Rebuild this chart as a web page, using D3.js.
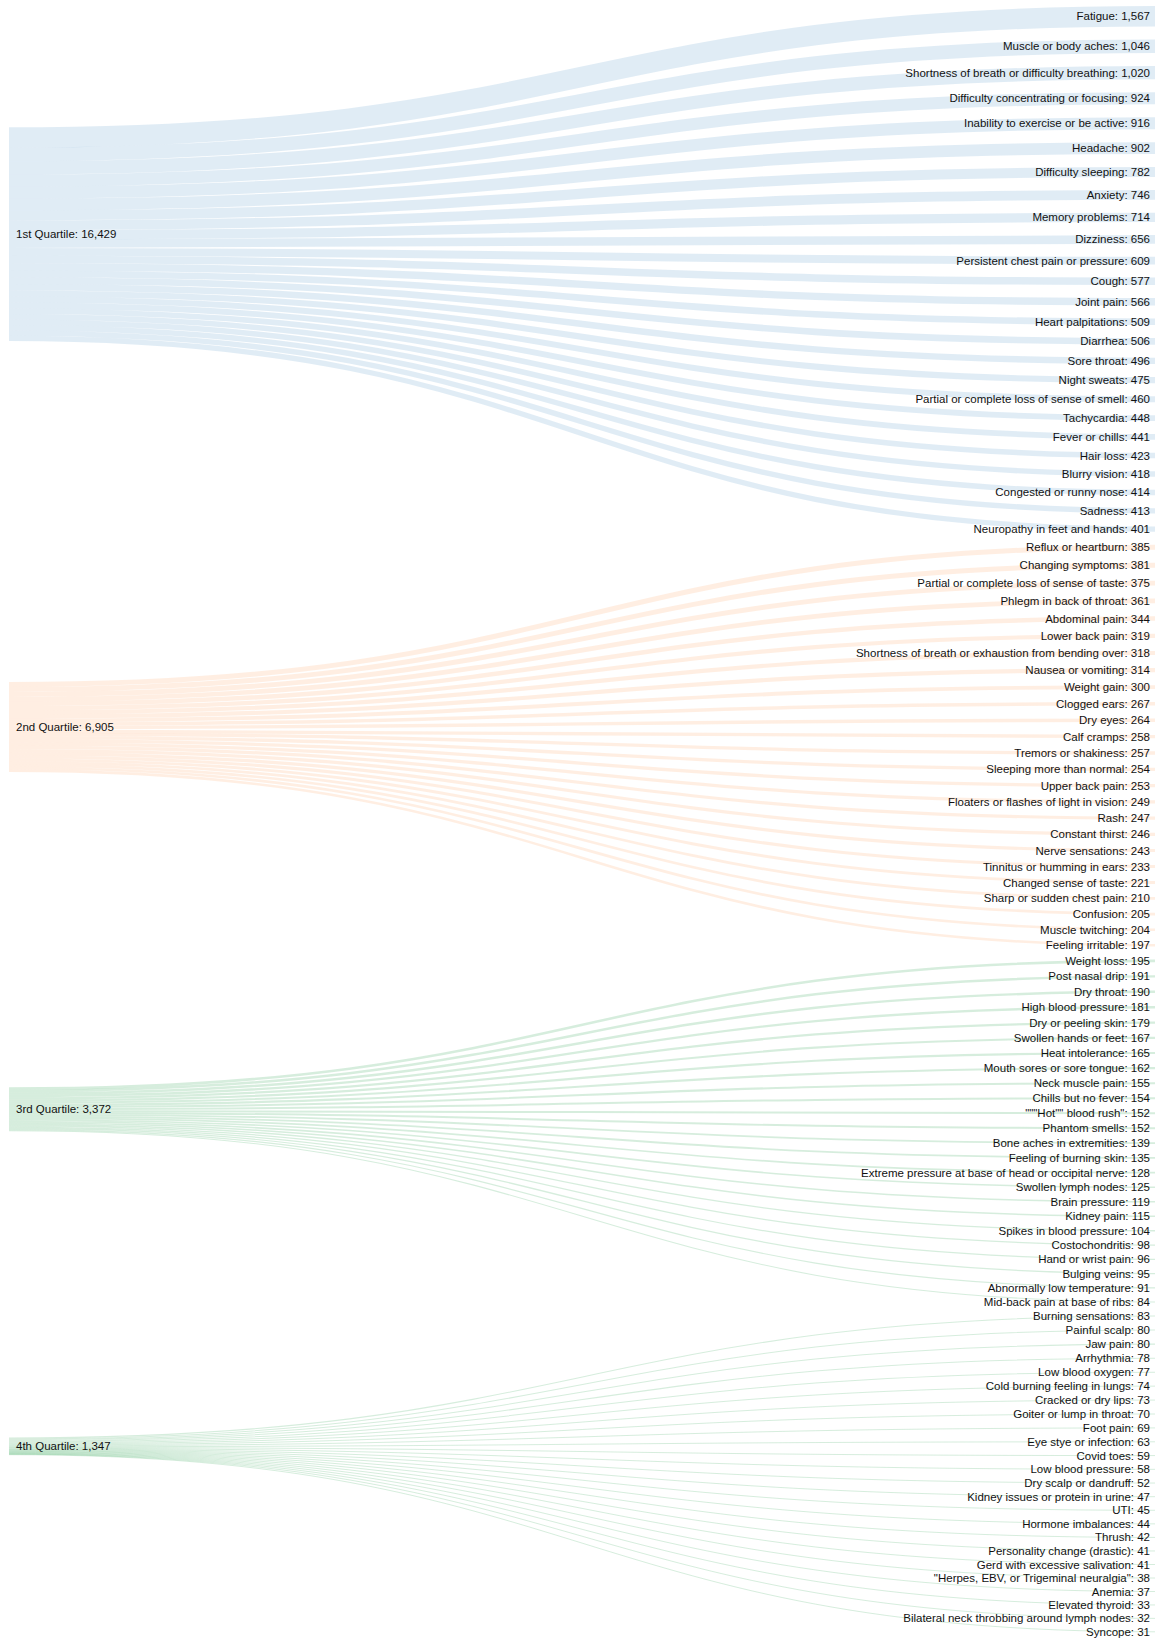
<!DOCTYPE html>
<html>
<head>
<meta charset="utf-8">
<script src="https://cdn.jsdelivr.net/npm/d3@7"></script>
<style>
body { margin: 0; background: #fff; }
text { font-family: Helvetica, Arial, "Liberation Sans", sans-serif; font-size: 11.5px; fill: #111; }
</style>
</head>
<body>
<script>
var quartiles = ["1st Quartile", "2nd Quartile", "3rd Quartile", "4th Quartile"]

var q1Names = ["Fatigue", "Muscle or body aches", "Shortness of breath or difficulty breathing",
  "Difficulty concentrating or focusing", "Inability to exercise or be active", "Headache",
  "Difficulty sleeping", "Anxiety", "Memory problems", "Dizziness", "Persistent chest pain or pressure",
  "Cough", "Joint pain", "Heart palpitations", "Diarrhea", "Sore throat", "Night sweats",
  "Partial or complete loss of sense of smell", "Tachycardia", "Fever or chills", "Hair loss",
  "Blurry vision", "Congested or runny nose", "Sadness", "Neuropathy in feet and hands"]
var q1Values = [1567, 1046, 1020, 924, 916, 902, 782, 746, 714, 656, 609, 577, 566, 509, 506, 496,
  475, 460, 448, 441, 423, 418, 414, 413, 401]

var q2Names = ["Reflux or heartburn", "Changing symptoms", "Partial or complete loss of sense of taste",
  "Phlegm in back of throat", "Abdominal pain", "Lower back pain",
  "Shortness of breath or exhaustion from bending over", "Nausea or vomiting", "Weight gain",
  "Clogged ears", "Dry eyes", "Calf cramps", "Tremors or shakiness", "Sleeping more than normal",
  "Upper back pain", "Floaters or flashes of light in vision", "Rash", "Constant thirst",
  "Nerve sensations", "Tinnitus or humming in ears", "Changed sense of taste",
  "Sharp or sudden chest pain", "Confusion", "Muscle twitching", "Feeling irritable"]
var q2Values = [385, 381, 375, 361, 344, 319, 318, 314, 300, 267, 264, 258, 257, 254, 253, 249, 247,
  246, 243, 233, 221, 210, 205, 204, 197]

var q3Names = ["Weight loss", "Post nasal drip", "Dry throat", "High blood pressure", "Dry or peeling skin",
  "Swollen hands or feet", "Heat intolerance", "Mouth sores or sore tongue", "Neck muscle pain",
  "Chills but no fever", "\"\"\"Hot\"\" blood rush\"", "Phantom smells", "Bone aches in extremities",
  "Feeling of burning skin", "Extreme pressure at base of head or occipital nerve",
  "Swollen lymph nodes", "Brain pressure", "Kidney pain", "Spikes in blood pressure",
  "Costochondritis", "Hand or wrist pain", "Bulging veins", "Abnormally low temperature",
  "Mid-back pain at base of ribs"]
var q3Values = [195, 191, 190, 181, 179, 167, 165, 162, 155, 154, 152, 152, 139, 135, 128, 125, 119,
  115, 104, 98, 96, 95, 91, 84]

var q4Names = ["Burning sensations", "Painful scalp", "Jaw pain", "Arrhythmia", "Low blood oxygen",
  "Cold burning feeling in lungs", "Cracked or dry lips", "Goiter or lump in throat", "Foot pain",
  "Eye stye or infection", "Covid toes", "Low blood pressure", "Dry scalp or dandruff",
  "Kidney issues or protein in urine", "UTI", "Hormone imbalances", "Thrush",
  "Personality change (drastic)", "Gerd with excessive salivation",
  "\"Herpes, EBV, or Trigeminal neuralgia\"", "Anemia", "Elevated thyroid",
  "Bilateral neck throbbing around lymph nodes", "Syncope"]
var q4Values = [83, 80, 80, 78, 77, 74, 73, 70, 69, 63, 59, 58, 52, 47, 45, 44, 42, 41, 41, 38, 37,
  33, 32, 31]

var linkColors = ["#3182bd", "#fd8d3c", "#31a354", "#31a354"]
var linkOpacity = [0.15, 0.15, 0.2, 0.2]

var width = 1155, height = 1638
var xLeft = 9, xRight = 1156, yTop = 6, yBottom = 1632, pad = 13

var groups = [[q1Names, q1Values], [q2Names, q2Values], [q3Names, q3Values], [q4Names, q4Values]]

// targets, in order down the right column
var targets = []
groups.forEach(function(g, qi) {
  for (var j = 0; j < g[0].length; j++) {
    targets.push({name: g[0][j], value: g[1][j], q: qi})
  }
})
var total = d3.sum(targets, function(d) { return d.value; })

var ky = d3.scaleLinear()
    .domain([0, total])
    .range([0, yBottom - yTop - (targets.length - 1) * pad])

var cum = 0
targets.forEach(function(t, i) {
  t.y0 = yTop + ky(cum) + i * pad
  t.y1 = t.y0 + ky(t.value)
  cum += t.value
})

// source nodes, placed so the links run as flat as they can
var sources = quartiles.map(function(name, qi) {
  var mine = targets.filter(function(t) { return t.q == qi; })
  var off = 0, acc = 0, sum = 0
  var links = []
  mine.forEach(function(t) {
    links.push({target: t, offset: off, width: ky(t.value), value: t.value})
    acc += t.value * (t.y0 - off)
    sum += t.value
    off += ky(t.value)
  })
  var y0 = acc / sum
  return {name: name, value: sum, y0: y0, y1: y0 + ky(sum), links: links, q: qi}
})

var svg = d3.select('body').append('svg')
    .attr('width', width)
    .attr('height', height)

var linkPath = d3.linkHorizontal()

sources.forEach(function(s) {
  svg.append('g')
      .attr('fill', 'none')
      .attr('stroke', linkColors[s.q])
      .attr('stroke-opacity', linkOpacity[s.q])
    .selectAll('path')
    .data(s.links)
    .enter().append('path')
      .attr('d', function(l) {
        return linkPath({
          source: [xLeft, s.y0 + l.offset + l.width / 2],
          target: [xRight, l.target.y0 + l.width / 2]
        })
      })
      .attr('stroke-width', function(l) { return Math.max(1, l.width); })
})

var fmt = d3.format(",")

svg.append('g').selectAll('text')
    .data(sources)
    .enter().append('text')
      .attr('x', xLeft + 7)
      .attr('y', function(d) { return (d.y0 + d.y1) / 2; })
      .attr('dy', '0.35em')
      .attr('text-anchor', 'start')
      .text(function(d) { return d.name + ": " + fmt(d.value); })

svg.append('g').selectAll('text')
    .data(targets)
    .enter().append('text')
      .attr('x', width - 5)
      .attr('y', function(d) { return (d.y0 + d.y1) / 2; })
      .attr('dy', '0.35em')
      .attr('text-anchor', 'end')
      .text(function(d) { return d.name + ": " + fmt(d.value); })
</script>
</body>
</html>
